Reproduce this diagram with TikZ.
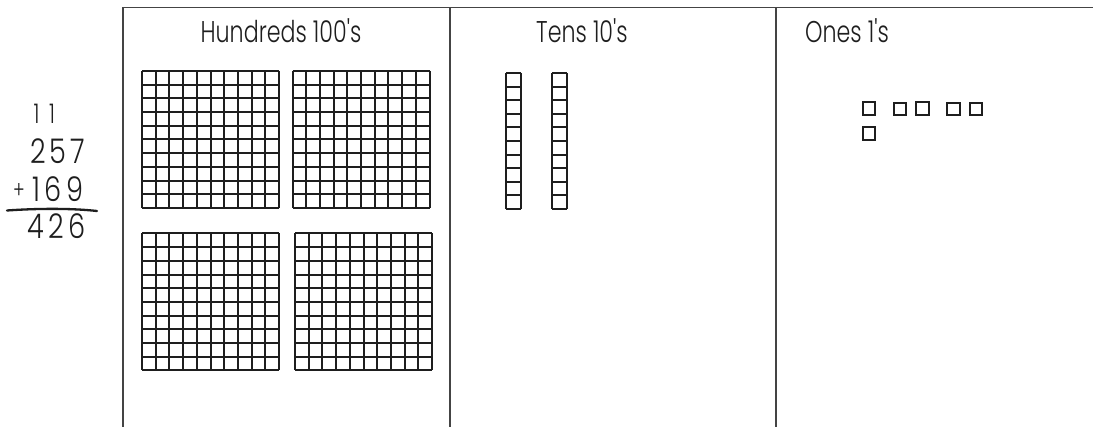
\documentclass[tikz,border=0pt]{standalone}
\usepackage{fontspec}
\newfontfamily\hand[FakeStretch=0.74]{Poppins Light}
\newfontfamily\handd[FakeStretch=0.8,LetterSpace=12]{Poppins Light}
\definecolor{ink}{HTML}{1E1E1E}
\definecolor{frame}{HTML}{444444}
\tikzset{
  framerule/.style={draw=frame, line width=1.4pt},
  gridrule/.style={draw=ink, line width=2pt},
  label/.style={inner sep=0pt, text=ink, font=\hand\fontsize{30}{30}\selectfont},
  digits/.style={inner sep=0pt, text=ink, font=\handd\fontsize{34}{34}\selectfont},
  carrydigit/.style={inner sep=0pt, text=ink, font=\hand\fontsize{27}{27}\selectfont},
  hundred/.pic={
    \foreach \i in {0,...,10}{
      \draw[gridrule] (\i*13.7,0) -- (\i*13.7,137);
      \draw[gridrule] (0,\i*13.7) -- (137,\i*13.7);
    }
  },
  tenrod/.pic={
    \foreach \i in {0,...,10}{
      \draw[gridrule] (0,\i*13.6) -- (15,\i*13.6);
    }
    \draw[gridrule] (0,0) -- (0,136) (15,0) -- (15,136);
  },
  onecube/.style={draw=ink, line width=2pt, minimum width=12.5pt, minimum height=12.5pt, inner sep=0pt, anchor=north west}
}
\begin{document}
\begin{tikzpicture}[x=1pt,y=-1pt]
\useasboundingbox (0,0) rectangle (1093,427);
\fill[white] (0,0) rectangle (1093,427);
% frame
\coordinate (tl) at (123,7.5);
\coordinate (tr) at (1093,7.5);
\coordinate (bl) at (123,427);
\coordinate (m1t) at (450,7.5);
\coordinate (m1b) at (450,427);
\coordinate (m2t) at (776,7.5);
\coordinate (m2b) at (776,427);
\draw[framerule] (tl) -- (tr);
\draw[framerule] (tl) -- (bl);
\draw[framerule] (m1t) -- (m1b);
\draw[framerule] (m2t) -- (m2b);
% headers
\node[label] (hh) at (281,31) {Hundreds 100's};
\node[label] (ht) at (582,31) {Tens 10's};
\node[label] (ho) at (847,31) {Ones 1's};
% column addition
\node[carrydigit] (carrya) at (36.5,114) {1};
\node[carrydigit] (carryb) at (52,114) {1};
\node[digits] (n1) at (57.5,151.5) {257};
\node[digits] (n2) at (58,189.5) {169};
\node[digits, font=\hand\fontsize{24}{24}\selectfont] (plus) at (19,191) {+};
\coordinate (ra) at (7,210.5);
\coordinate (rb) at (97,211);
\draw[ink, line width=2.3pt, line cap=round] (ra) .. controls (35,208.5) and (70,208) .. (rb);
\node[digits] (n3) at (56.5,226.5) {426};
% hundreds flats
\pic at (142,71) {hundred};
\pic at (292.5,71) {hundred};
\pic at (142,233.5) {hundred};
\pic at (295,233.5) {hundred};
% tens rods
\pic at (506,73) {tenrod};
\pic at (552,73) {tenrod};
% ones cubes
\node[onecube] (c1) at (861.5,101.5) {};
\node[onecube] (c2) at (892.5,102) {};
\node[onecube] (c3) at (915,101.5) {};
\node[onecube] (c4) at (946,102) {};
\node[onecube] (c5) at (968.5,102) {};
\node[onecube] (c6) at (861.5,126.5) {};
\end{tikzpicture}
\end{document}
